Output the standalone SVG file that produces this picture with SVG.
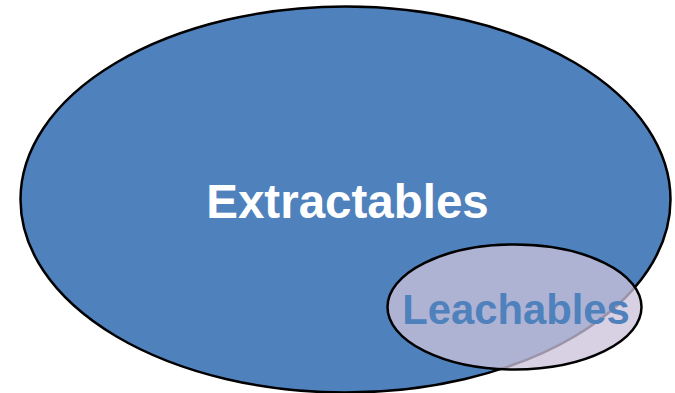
<svg xmlns="http://www.w3.org/2000/svg" width="675" height="393" viewBox="0 0 675 393">
  <style>
    .outline { stroke: #000000; stroke-width: 2.5; }
    .label { font-family: "Liberation Sans", Arial, sans-serif; font-weight: bold; text-anchor: middle; }
  </style>
  <rect width="675" height="393" fill="#ffffff"/>
  <!-- Outer set -->
  <g id="extractables">
    <ellipse class="outline" cx="345.5" cy="199.5" rx="325" ry="193" fill="#4F81BD"/>
    <text class="label" x="347.5" y="218" font-size="47.5" fill="#ffffff">Extractables</text>
  </g>
  <!-- Inner set, partly translucent so the outer outline shows through -->
  <g id="leachables">
    <ellipse class="outline" cx="514.5" cy="307" rx="127" ry="62.5" fill="#CCC1DA" fill-opacity="0.76"/>
    <text class="label" x="516" y="324" font-size="41.8" fill="#4F81BD">Leachables</text>
  </g>
  <g id="connectors"/>
</svg>
